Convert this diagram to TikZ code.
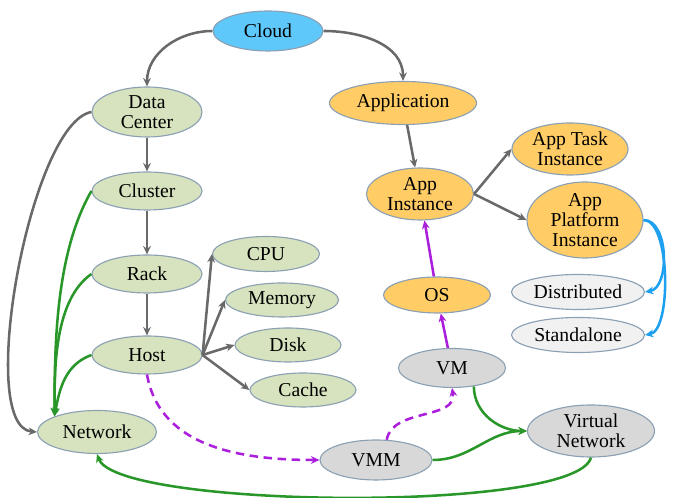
\documentclass[tikz,border=0pt]{standalone}
\usepackage{fontspec}
\setmainfont{Liberation Serif}
\usepackage{xcolor}
\usepackage{tikz}
\usetikzlibrary{shapes.geometric, arrows.meta}
\definecolor{nodegreen}{RGB}{215,227,190}
\definecolor{nodecloud}{RGB}{95,200,250}
\definecolor{nodeorange}{RGB}{255,204,102}
\definecolor{nodegray}{RGB}{216,216,216}
\definecolor{nodelight}{RGB}{241,241,241}
\definecolor{nodeborder}{RGB}{140,160,180}
\definecolor{edgegray}{RGB}{105,105,105}
\definecolor{edgegreen}{RGB}{40,150,40}
\definecolor{edgepurple}{RGB}{170,30,220}
\definecolor{edgeblue}{RGB}{30,160,240}
\tikzstyle{arrow} = [line width=1.8pt,-{Stealth[length=6pt,width=5.5pt]}]

\begin{document}
\begin{tikzpicture}[font=\rmfamily\fontsize{14}{14.5}\selectfont]
		\useasboundingbox (0,0) rectangle (16.875,12.45);
		\coordinate (cloud) at (6.7,11.675);
		\coordinate (datacenter) at (3.675,9.65);
		\coordinate (cluster) at (3.675,7.675);
		\coordinate (rack) at (3.675,5.6);
		\coordinate (host) at (3.675,3.575);
		\coordinate (cpu) at (6.65,6.1);
		\coordinate (memory) at (7.05,4.95);
		\coordinate (disk) at (7.2,3.825);
		\coordinate (cache) at (7.575,2.7);
		\coordinate (network) at (2.425,1.65);
		\coordinate (application) at (10.075,9.875);
		\coordinate (appinst) at (10.5,7.6);
		\coordinate (apptask) at (14.25,8.725);
		\coordinate (appplat) at (14.625,6.95);
		\coordinate (distributed) at (14.45,5.15);
		\coordinate (standalone) at (14.45,4.075);
		\coordinate (os) at (10.925,5.075);
		\coordinate (vm) at (11.3,3.25);
		\coordinate (vnet) at (14.775,1.675);
		\coordinate (vmm) at (9.4,0.95);
		% Cloud
		\begin{scope}[every node/.style={draw=nodeborder, thick, fill=nodecloud, ellipse, inner sep=0pt, align=center, minimum width=2.75cm, minimum height=1cm}]
		\node[name=cloud] at (cloud) {Cloud};
		\end{scope}
		% Infrastructure
		\begin{scope}[every node/.style={draw=nodeborder, thick, fill=nodegreen, ellipse, inner sep=0pt, align=center, minimum width=2.75cm, minimum height=0.95cm}]
		\node[name=datacenter, minimum height=1.25cm] at (datacenter) {Data\\Center};
		\node[name=cluster] at (cluster) {Cluster};
		\node[name=rack] at (rack) {Rack};
		\node[name=host] at (host) {Host};
		\node[name=cpu, minimum width=2.675cm, minimum height=0.875cm] at (cpu) {CPU};
		\node[name=memory, minimum width=2.825cm, minimum height=0.85cm] at (memory) {Memory};
		\node[name=disk, minimum width=2.65cm, minimum height=0.85cm] at (disk) {Disk};
		\node[name=cache, minimum width=2.65cm, minimum height=0.85cm] at (cache) {Cache};
		\node[name=network, minimum width=2.975cm, minimum height=1.075cm] at (network) {Network};
		\end{scope}
		% Applications
		\begin{scope}[every node/.style={draw=nodeborder, thick, fill=nodeorange, ellipse, inner sep=0pt, align=center, minimum width=2.675cm, minimum height=0.9cm}]
		\node[name=application, minimum width=3.675cm, minimum height=1.075cm] at (application) {Application};
		\node[name=appinst, minimum height=1.3cm] at (appinst) {App\\Instance};
		\node[name=apptask, minimum width=2.9cm, minimum height=1.3cm] at (apptask) {App Task\\Instance};
		\node[name=appplat, minimum width=2.9cm, minimum height=1.9cm, inner sep=-2pt] at (appplat) {App\\Platform\\Instance};
		\node[name=os] at (os) {OS};
		\end{scope}
		% Deployment
		\begin{scope}[every node/.style={draw=nodeborder, thick, fill=nodelight, ellipse, inner sep=0pt, align=center, minimum width=3.325cm, minimum height=0.875cm}]
		\node[name=distributed] at (distributed) {Distributed};
		\node[name=standalone] at (standalone) {Standalone};
		\end{scope}
		% Virtualization
		\begin{scope}[every node/.style={draw=nodeborder, thick, fill=nodegray, ellipse, inner sep=0pt, align=center, minimum width=2.675cm, minimum height=0.975cm}]
		\node[name=vm] at (vm) {VM};
		\node[name=vmm, minimum width=2.8cm, minimum height=1cm] at (vmm) {VMM};
		\node[name=vnet, minimum width=3.175cm, minimum height=1.3cm] at (vnet) {Virtual\\Network};
		\end{scope}
		% gray: containment
		\draw [arrow, edgegray] (cloud.west) to[out=180,in=90] (datacenter.north);
		\draw [arrow, edgegray] (cloud.east) to[out=0,in=90] (application.north);
		\draw [arrow, edgegray] (datacenter)--(cluster);
		\draw [arrow, edgegray] (cluster)--(rack);
		\draw [arrow, edgegray] (rack)--(host);
		\draw [arrow, edgegray] (datacenter.west) .. controls (0.75,9.375) and (-0.625,1.775) .. (network.west);
		\draw [arrow, edgegray] (host.east)--(cpu.west);
		\draw [arrow, edgegray] (host.east)--(memory.west);
		\draw [arrow, edgegray] (host.east)--(disk.west);
		\draw [arrow, edgegray] (host.east)--(cache.west);
		\draw [arrow, edgegray] (application)--(appinst);
		\draw [arrow, edgegray] (appinst.east)--(apptask.west);
		\draw [arrow, edgegray] (appinst.east)--(appplat.west);
		% blue: deployment modes
		\draw [arrow, edgeblue] (appplat.east) to[out=0,in=10,looseness=0.9] (distributed.east);
		\draw [arrow, edgeblue] (appplat.east) to[out=0,in=10,looseness=0.6] (standalone.east);
		% purple: hosting
		\draw [arrow, edgepurple] (os)--(appinst);
		\draw [arrow, edgepurple] (vm)--(os);
		\draw [arrow, edgepurple, dashed, dash pattern=on 6pt off 4pt] (host.south) to[out=-80,in=180] (vmm.west);
		\draw [arrow, edgepurple, dashed, dash pattern=on 6pt off 4pt] (vmm.62) to[out=80,in=-80] (vm.south);
		% green: networking
		\draw [arrow, edgegreen] (cluster.west) to[out=240,in=90,looseness=0.8] (network.north west);
		\draw [arrow, edgegreen] (rack.west) to[out=215,in=90,looseness=0.8] (network.north west);
		\draw [arrow, edgegreen] (host.west) to[out=200,in=80] (network.north west);
		\draw [arrow, edgegreen] (vm.-40) to[out=-90,in=180] (vnet.west);
		\draw [arrow, edgegreen] (vmm.east) to[out=0,in=180] (vnet.west);
		\draw [arrow, edgegreen] (vnet.south) to[out=-105,in=-70,looseness=0.3] (network.south);
		\end{tikzpicture}
\end{document}
